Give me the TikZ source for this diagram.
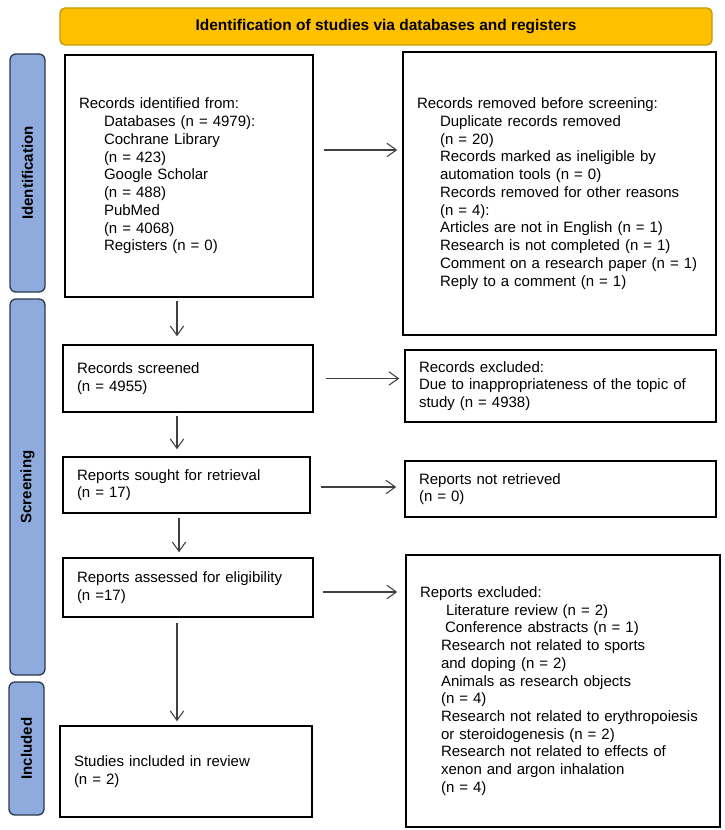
\documentclass[tikz,border=0pt]{standalone}
\usepackage{fontspec}
\setmainfont{Liberation Sans}
\usetikzlibrary{arrows.meta,calc}
\definecolor{gold}{HTML}{FFC000}
\definecolor{goldedge}{HTML}{C49A00}
\definecolor{phase}{HTML}{8FAADC}
\definecolor{phaseedge}{HTML}{2B3A4A}
\definecolor{arrowgray}{HTML}{404040}
\newdimen\upx \upx=0.75pt
\begin{document}
\begin{tikzpicture}[x=0.75pt,y=-0.75pt,
  font=\fontsize{11.25pt}{13.3pt}\selectfont,
  box/.style={draw=black, line width=1.1pt, fill=white, inner xsep=14\upx, inner ysep=0pt, align=left, anchor=center},
  phasebox/.style={draw=phaseedge, fill=phase, line width=1pt, rounded corners=6\upx, minimum height=35\upx, inner sep=0pt, rotate=90, font=\fontsize{11.3pt}{13pt}\selectfont\bfseries},
  arr/.style={draw=arrowgray, line width=0.8pt, -{Straight Barb[length=7pt,width=10pt]}}]
\useasboundingbox (0,0) rectangle (724,830);

% banner
\node[draw=goldedge, fill=gold, line width=1pt, rounded corners=5\upx, minimum width=652\upx, minimum height=37\upx, inner sep=0pt, font=\fontsize{11.6pt}{13pt}\selectfont\bfseries] (ban) at (386,26.5) {Identification of studies via databases and registers};

% phase labels
\node[phasebox, minimum width=238\upx] (pid) at (27.5,173) {Identification};
\node[phasebox, minimum width=376\upx] (psc) at (27.5,487) {Screening};
\node[phasebox, minimum width=133\upx] (pin) at (26.5,748.5) {Included};

% boxes
\node[box, text width=220\upx, minimum height=242\upx] (A) at (189,176) {Records identified from:\\
\hspace*{25\upx}Databases (n = 4979):\\
\hspace*{25\upx}Cochrane Library\\
\hspace*{25\upx}(n = 423)\\
\hspace*{25\upx}Google Scholar\\
\hspace*{25\upx}(n = 488)\\
\hspace*{25\upx}PubMed\\
\hspace*{25\upx}(n = 4068)\\
\hspace*{25\upx}Registers (n = 0)\\[4pt]};

\node[box, text width=285\upx, minimum height=283\upx] (B) at (559.5,193.5) {Records removed before screening:\\
\hspace*{23\upx}Duplicate records removed\\
\hspace*{23\upx}(n = 20)\\
\hspace*{23\upx}Records marked as ineligible by\\
\hspace*{23\upx}automation tools (n = 0)\\
\hspace*{23\upx}Records removed for other reasons\\
\hspace*{23\upx}(n = 4):\\
\hspace*{23\upx}Articles are not in English (n = 1)\\
\hspace*{23\upx}Research is not completed (n = 1)\\
\hspace*{23\upx}Comment on a research paper (n = 1)\\
\hspace*{23\upx}Reply to a comment (n = 1)};

\node[box, text width=222\upx, minimum height=67\upx] (C) at (188,378.5) {Records screened\\(n = 4955)};

\node[box, text width=283\upx, minimum height=72\upx] (D) at (560.5,386) {Records excluded:\\Due to inappropriateness of the topic of\\study (n = 4938)};

\node[box, text width=219\upx, minimum height=56\upx] (E) at (186.5,485) {Reports sought for retrieval\\(n = 17)};

\node[box, text width=283\upx, minimum height=56\upx] (F) at (560.5,489) {Reports not retrieved\\(n = 0)};

\node[box, text width=222\upx, minimum height=59\upx] (G) at (188,587.5) {Reports assessed for eligibility\\(n =17)};

\node[box, text width=286\upx, minimum height=272\upx] (H) at (563,691) {Reports excluded:\\
\hspace*{26\upx}Literature review (n = 2)\\
\hspace*{25\upx}Conference abstracts (n = 1)\\
\hspace*{21\upx}Research not related to sports\\
\hspace*{21\upx}and doping (n = 2)\\
\hspace*{21\upx}Animals as research objects\\
\hspace*{21\upx}(n = 4)\\
\hspace*{21\upx}Research not related to erythropoiesis\\
\hspace*{21\upx}or steroidogenesis (n = 2)\\
\hspace*{21\upx}Research not related to effects of\\
\hspace*{21\upx}xenon and argon inhalation\\
\hspace*{21\upx}(n = 4)};

\node[box, text width=224\upx, minimum height=91\upx] (I) at (186,771.5) {Studies included in review\\(n = 2)};

% connectors
\draw[arr] ($(A.east)+(10,-26)$) -- ($(B.west)+(-5,-43.5)$);
\draw[arr] ($(A.south)+(-12,3)$) -- ($(C.north)+(-11,-8)$);
\draw[arr] ($(C.east)+(12,0)$) -- ($(D.west)+(-5,-7.5)$);
\draw[arr] ($(C.south)+(-11,3)$) -- ($(E.north)+(-9.5,-7)$);
\draw[arr] ($(E.east)+(10,2)$) -- ($(F.west)+(-8,-2)$);
\draw[arr] ($(E.south)+(-7.5,4)$) -- ($(G.north)+(-9,-5)$);
\draw[arr] ($(G.east)+(9,4.5)$) -- ($(H.west)+(-8,-99)$);
\draw[arr] ($(G.south)+(-11,5)$) -- ($(I.north)+(-9,-4)$);
\end{tikzpicture}
\end{document}
